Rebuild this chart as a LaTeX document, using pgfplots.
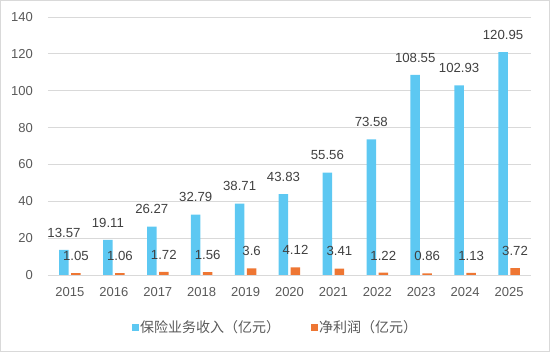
\documentclass[border=0pt]{standalone}
\usepackage{pgfplots}
\pgfplotsset{compat=1.18}
\usepackage{fontspec}
\setmainfont{Liberation Sans}
\newfontfamily\cjk{Noto Sans CJK SC}
\definecolor{cblue}{HTML}{5DC8F2}
\definecolor{corange}{HTML}{EE7633}
\definecolor{cgrid}{HTML}{D9D9D9}
\definecolor{ctick}{HTML}{595959}
\definecolor{clabel}{HTML}{404040}
\begin{document}
\begin{tikzpicture}
\path[use as bounding box] (-48pt,-77pt) rectangle (502pt,275pt);
\draw[cgrid, line width=1pt] (-47.5pt,-76.5pt) rectangle (501.5pt,274.5pt);
\begin{axis}[
  scale only axis,
  width=483pt, height=258pt,
  xmin=-0.5, xmax=10.5, ymin=0, ymax=140,
  ybar=2.5pt, bar width=9.5pt,
  xtick={0,...,10},
  xticklabels={2015,2016,2017,2018,2019,2020,2021,2022,2023,2024,2025},
  ytick={0,20,...,140},
  ymajorgrids, major grid style={cgrid, line width=0.9pt},
  axis line style={draw=none},
  major tick length=0pt,
  /pgf/number format/assume math mode=true,
  tick label style={font=\fontsize{13}{15}\selectfont, text=ctick},
  xticklabel style={inner sep=0pt, anchor=north, yshift=-12.3pt},
  yticklabel style={inner sep=0pt, anchor=east, xshift=-15pt},
  clip=false,
  nodes near coords,
  nodes near coords style={font=\fontsize{13.2}{15}\selectfont, text=clabel, inner sep=0pt, anchor=south, yshift=12.4pt},
  legend columns=-1,
  legend style={at={(0.470,-0.2016)}, anchor=center, draw=none, fill=none, inner sep=0pt,
    font=\fontsize{14}{16}\selectfont, text=ctick,
    nodes={inner sep=1.5pt, anchor=west},
    /tikz/every even column/.append style={column sep=29pt}},
  legend image code/.code={\fill[#1, draw=none] (0pt,-3.5pt) rectangle (7pt,3.5pt);},
]
\addplot[fill=cblue, draw=none] coordinates {
(0,13.57) (1,19.11) (2,26.27) (3,32.79) (4,38.71) (5,43.83) (6,55.56) (7,73.58) (8,108.55) (9,102.93) (10,120.95)};
\addplot[fill=corange, draw=none] coordinates {
(0,1.05) (1,1.06) (2,1.72) (3,1.56) (4,3.6) (5,4.12) (6,3.41) (7,1.22) (8,0.86) (9,1.13) (10,3.72)};
\legend{{\cjk 保险业务收入（亿元）},{\cjk 净利润（亿元）}}
\end{axis}
\end{tikzpicture}
\end{document}
